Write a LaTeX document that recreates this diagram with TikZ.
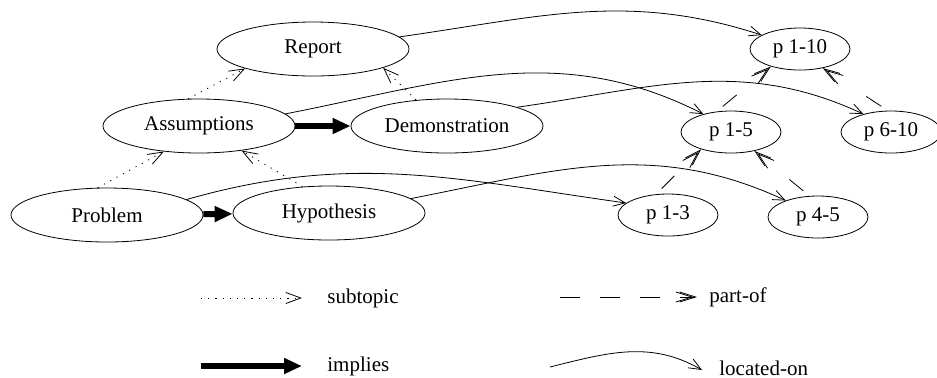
\documentclass[tikz,border=0pt]{standalone}
\usepackage{fontspec}
\setmainfont{Liberation Serif}
\usetikzlibrary{shapes.geometric,arrows.meta}

\begin{document}
\begin{tikzpicture}[x=0.5pt,y=-0.5pt,font=\fontsize{10.5}{12}\selectfont,
  topic/.style={draw, ellipse, inner sep=0pt, minimum width=96pt, minimum height=27pt},
  page/.style={draw, ellipse, inner sep=0pt, minimum width=50pt, minimum height=21pt},
  legend/.style={anchor=west, inner sep=0pt},
  subtopic/.style={dash pattern=on 0.6pt off 3pt, -{Straight Barb[length=7.5pt,width=5.5pt]}},
  implies/.style={line width=3pt, -{Triangle[length=9pt,width=7.5pt]}},
  partof/.style={dash pattern=on 9pt off 30pt, dash phase=35pt,
    -{Straight Barb[length=8pt,width=5pt,sep=-7pt]Straight Barb[length=8pt,width=5pt]}},
  locatedon/.style={-{Straight Barb[length=6pt,width=5pt]}}]
%\draw[help lines, color=gray!30, dashed] (0,0) grid[step=50] (937,377);
\useasboundingbox (0,0) rectangle (937,377);
\node[topic] (report) at (313,49) {Report};
\node[topic] (assump) at (199,126) {Assumptions};
\node[topic] (demo) at (447,126) {Demonstration};
\node[topic] (problem) at (107,215) {Problem};
\node[topic] (hypo) at (329,213) {Hypothesis};
\node[page] (p110) at (800,49) {p 1-10};
\node[page] (p15) at (731,132) {p 1-5};
\node[page] (p610) at (891,132) {p 6-10};
\node[page] (p13) at (668,215) {p 1-3};
\node[page] (p45) at (818,217) {p 4-5};
% subtopic
\draw[subtopic] (assump.112) -- (report.196);
\draw[subtopic] (demo.140) -- (report.345);
\draw[subtopic] (problem.109) -- (assump.216);
\draw[subtopic] (hypo.135) -- (assump.330);
% implies
\draw[implies] (assump) -- (demo);
\draw[implies] (problem) -- (hypo);
% part-of
\draw[partof] (p15.125) -- (p110.211);
\draw[partof] (p610.98) -- (p110.320);
\draw[partof] (p13.120) -- (p15.210);
\draw[partof] (p45.112) -- (p15.321);
% located-on
\draw[locatedon] (report.8) to[out=8, in=162] (p110.160);
\draw[locatedon] (assump.8) to[out=11, in=153] (p15.147);
\draw[locatedon] (demo.15) to[out=8, in=155] (p610.147);
\draw[locatedon] (problem.11) to[out=16, in=172] (p13.164);
\draw[locatedon] (hypo.10) to[out=11, in=155] (p45.153);
% legend
\coordinate (subA) at (201,298);
\coordinate (subB) at (302,298);
\draw[subtopic] (subA) -- (subB);
\node[legend] (subT) at (327,298) {subtopic};
\coordinate (impA) at (201,366);
\coordinate (impB) at (302,366);
\draw[implies] (impA) -- (impB);
\node[legend] (impT) at (327,366) {implies};
\coordinate (partA) at (560,297);
\coordinate (partB) at (697,297);
\draw[partof, dash pattern=on 10pt off 10pt, dash phase=0pt] (partA) -- (partB);
\node[legend] (partT) at (709,297) {part-of};
\coordinate (locA) at (550,367);
\coordinate (locB) at (702,370);
\draw[locatedon] (locA) to[out=14, in=150] (locB);
\node[legend] (locT) at (719,368) {located-on};
\end{tikzpicture}
\end{document}
